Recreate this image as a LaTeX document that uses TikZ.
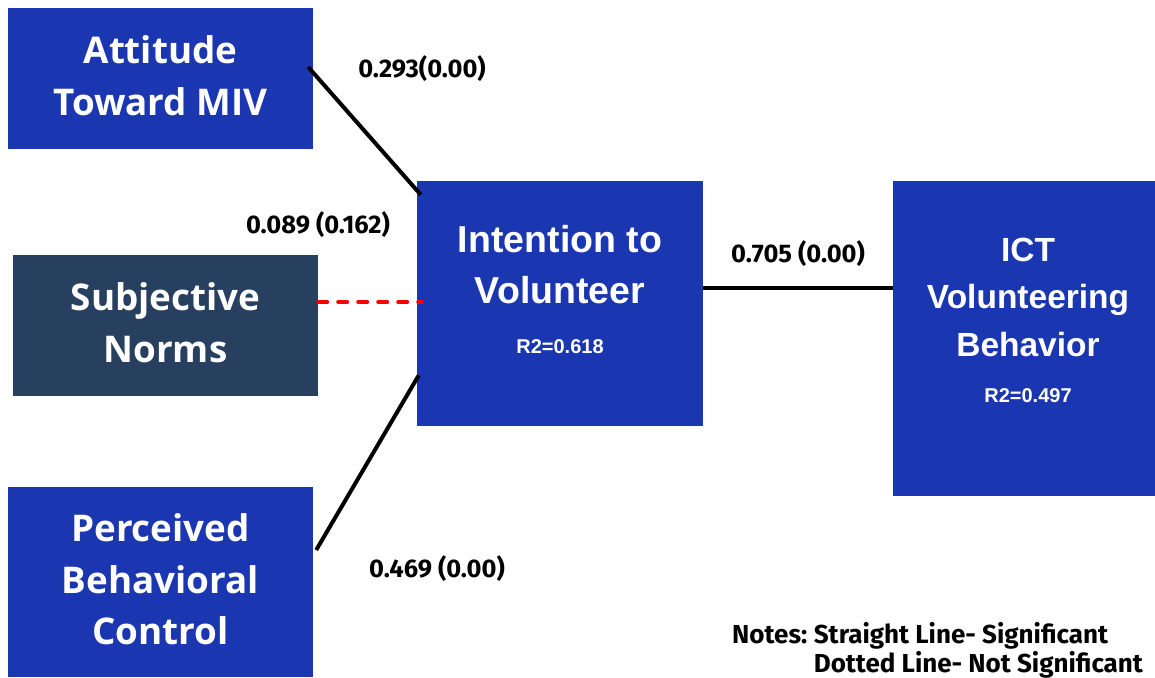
\documentclass[tikz,border=0pt]{standalone}
\usepackage{fontspec}
\usepackage{tikz}
\usetikzlibrary{calc}
\newfontfamily\opensans{Open Sans}
\newfontfamily\liberation{Liberation Sans}
\newfontfamily\fira{Fira Sans}
\definecolor{boxblue}{RGB}{26, 54, 176}
\definecolor{boxslate}{RGB}{39, 64, 96}

\begin{document}
\begin{tikzpicture}[x=1pt, y=-1pt,
  box/.style={fill=boxblue, text=white, inner sep=0pt, align=center, text depth=5.5pt, font=\opensans\bfseries\fontsize{36.8}{51.5}\selectfont},
  head/.style={text=white, align=center, inner sep=0pt, font=\liberation\bfseries\fontsize{37.5}{51}\selectfont},
  rsq/.style={text=white, inner sep=0pt, font=\liberation\bfseries\fontsize{20}{24}\selectfont},
  coef/.style={inner sep=0pt, font=\fira\bfseries\fontsize{25.5}{30}\selectfont},
  sig/.style={line width=4pt},
  nonsig/.style={red, line width=4pt, dash pattern=on 9pt off 11pt, line cap=round}]
  \useasboundingbox (0,0) rectangle (1155,677);
  % predictors
  \node[box, minimum width=305pt, minimum height=141pt] (att) at (160.5,78.5) {Attitude\\Toward MIV};
  \node[box, fill=boxslate, minimum width=305pt, minimum height=141pt] (sn) at (165.5,325.5) {Subjective\\Norms};
  \node[box, minimum width=305pt, minimum height=190pt] (pbc) at (160.5,582) {Perceived\\Behavioral\\Control};
  % intention and behaviour
  \node[box, minimum width=286pt, minimum height=245pt] (int) at (560,303.5) {};
  \node[head] (intT) at (560,265) {Intention to\\Volunteer};
  \node[rsq] (intR) at (560,347) {R2=0.618};
  \node[box, minimum width=262pt, minimum height=315pt] (ict) at (1024,338.5) {};
  \node[head, font=\liberation\bfseries\fontsize{33.5}{47.5}\selectfont] (ictT) at (1028,297) {ICT\\Volunteering\\Behavior};
  \node[rsq] (ictR) at (1028,396) {R2=0.497};
  % paths
  \draw[sig] ($(att.east)+(-5,-11.5)$) -- ($(int.north west)+(4,14)$);
  \draw[nonsig] ($(sn.east)+(0,-23.5)$) -- ($(int.west)+(5,-1.5)$);
  \draw[sig] ($(pbc.east)+(3,-32)$) -- ($(int.south west)+(2,-51)$);
  \draw[sig] ($(int.east)+(0,-15.5)$) -- ($(ict.west)+(0,-50.5)$);
  \node[coef] (lAtt) at (422,69) {0.293(0.00)};
  \node[coef] (lSn) at (318,225) {0.089 (0.162)};
  \node[coef] (lInt) at (798,254) {0.705 (0.00)};
  \node[coef] (lPbc) at (437,569) {0.469 (0.00)};
  \node[coef, anchor=base west, font=\fira\bfseries\fontsize{26}{27}\selectfont] (notes) at (732,643)
    {\begin{tabular}[t]{@{}l@{\hspace{0.25em}}l@{}}Notes: & Straight Line- Significant\\ & Dotted Line- Not Significant\end{tabular}};
\end{tikzpicture}
\end{document}
